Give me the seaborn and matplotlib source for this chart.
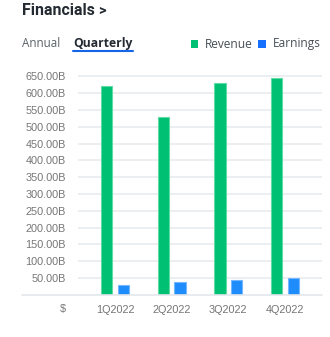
import matplotlib
matplotlib.use("Agg")
import matplotlib.pyplot as plt
import seaborn as sns
import pandas as pd
from matplotlib.patches import Rectangle
from matplotlib.lines import Line2D

quarters = ["1Q2022", "2Q2022", "3Q2022", "4Q2022"]
revenue = [622, 528, 629, 646]
earnings = [28.5, 38.5, 43.5, 48.5]
series = ["Revenue", "Earnings"]
ytick_vals = [50, 100, 150, 200, 250, 300, 350, 400, 450, 500, 550, 600, 650]
ytick_labels = [f"{v:.2f}B" for v in ytick_vals]

df = pd.DataFrame({
    "quarter": quarters * 2,
    "series": ["Revenue"] * 4 + ["Earnings"] * 4,
    "value": revenue + earnings,
})

sns.set_theme(style="white")
plt.rcParams["font.family"] = ["Liberation Sans", "DejaVu Sans"]

W, H = 330, 337
fig = plt.figure(figsize=(W / 100, H / 100), dpi=100)

def fx(px):
    return px / W

def fy(py):
    return 1 - py / H

base_y = 294.7
per50 = 16.8
ymax = 660
top_y = base_y - ymax / 50 * per50
ax = fig.add_axes([fx(78), fy(base_y), fx(322) - fx(78), (base_y - top_y) / H])

green = "#00c073"
blue_bar = "#1e8dfb"
sns.barplot(data=df, x="quarter", y="value", hue="series", hue_order=series,
            palette={"Revenue": green, "Earnings": blue_bar}, width=0.588, gap=0.31,
            ax=ax, legend=False, saturation=1)

for p in ax.patches:
    fc = p.get_facecolor()
    if abs(fc[1] - 0.753) < 0.05:
        p.set_edgecolor("#5fdca6")
    else:
        p.set_edgecolor("#74b6ff")
    p.set_linewidth(0.8)

ax.set_xlim(-0.653, 3.653)
ax.set_ylim(0, ymax)
ax.set_yticks(ytick_vals)
ax.set_yticklabels(ytick_labels)
ax.set_xlabel("")
ax.set_ylabel("")
for s in ax.spines.values():
    s.set_visible(False)
ax.yaxis.grid(True, color="#e9ecf0", linewidth=1.2)
ax.xaxis.grid(False)
ax.set_axisbelow(True)
ax.tick_params(axis="y", length=0, pad=8.8, labelsize=7.8, labelcolor="#757575")
ax.tick_params(axis="x", length=0, pad=7.5, labelsize=7.8, labelcolor="#757575")

# baseline extending left
fig.add_artist(Line2D([fx(22), fx(322)], [fy(base_y), fy(base_y)], color="#e3e6eb", lw=1.2))
fig.text(fx(65.7), fy(309), "$", ha="right", va="center", fontsize=7.8, color="#757575")

# header
hdr = ["Open Sans", "DejaVu Sans"]
ttl = ["Roboto", "DejaVu Sans"]
fig.text(fx(21.7), fy(10.5), "Financials", ha="left", va="center", fontsize=11.4,
         fontweight="bold", color="#232a31", family=ttl)
fig.text(fx(97.8), fy(10.8), ">", ha="left", va="center", fontsize=10.5,
         fontweight="bold", color="#232a31", family=ttl)
fig.text(fx(22), fy(43.5), "Annual", ha="left", va="center", fontsize=8.4,
         color="#5b636a", family=hdr)
fig.text(fx(73), fy(43.5), "Quarterly", ha="left", va="center", fontsize=8.7,
         fontweight="bold", color="#232a31", family=hdr)
fig.add_artist(Line2D([fx(73), fx(133)], [fy(50.7), fy(50.7)], color="#1565e8", lw=1.5))

# legend
fig.add_artist(Rectangle((fx(190.5), fy(47.8)), fx(7.8), 7.8 / H,
                         facecolor=green, edgecolor="none"))
fig.text(fx(205), fy(44), "Revenue", ha="left", va="center", fontsize=8.6,
         color="#464e56", family=hdr)
fig.add_artist(Rectangle((fx(258.3), fy(47.8)), fx(7.8), 7.8 / H,
                         facecolor="#1570ff", edgecolor="none"))
fig.text(fx(273.3), fy(44), "Earnings", ha="left", va="center", fontsize=8.6,
         color="#464e56", family=hdr)

fig.savefig("out.png", dpi=100, facecolor="white")
